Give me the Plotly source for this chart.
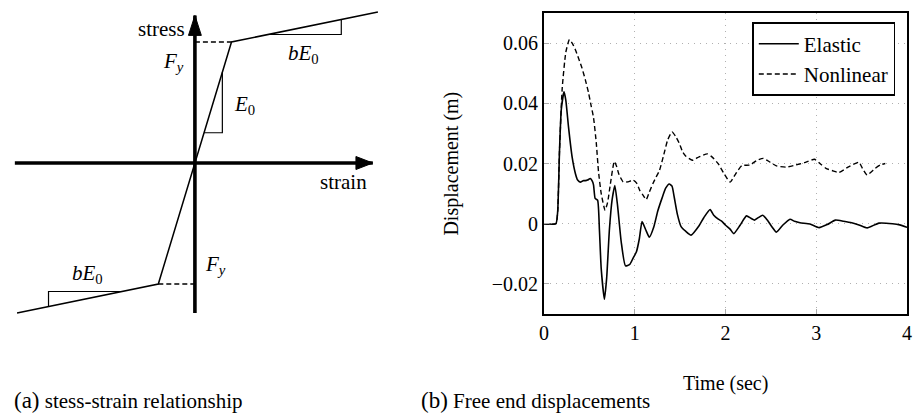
import plotly.graph_objects as go

# ---------------- data: (b) free end displacements ----------------
elastic_t = [0, 0.13, 0.15, 0.17, 0.19, 0.22, 0.24, 0.27, 0.31, 0.345, 0.37, 0.40, 0.43, 0.455,
             0.48, 0.51, 0.53, 0.545, 0.563, 0.59, 0.61, 0.63, 0.665, 0.69, 0.72, 0.75, 0.78,
             0.81, 0.85, 0.897, 0.945, 0.98, 1.017, 1.05, 1.08, 1.12, 1.16, 1.21, 1.253, 1.30,
             1.34, 1.38, 1.41, 1.435, 1.47, 1.51, 1.56, 1.62, 1.708, 1.76, 1.83, 1.87, 1.92,
             1.96, 2.0, 2.05, 2.09, 2.16, 2.23, 2.28, 2.32, 2.36, 2.41, 2.46, 2.51, 2.56, 2.63,
             2.71, 2.76, 2.82, 2.93, 3.03, 3.12, 3.21, 3.30, 3.39, 3.47, 3.56, 3.69, 3.84, 3.92, 4.0]
elastic_d = [0, 0, 0.004, 0.024, 0.038, 0.0438, 0.041, 0.032, 0.022, 0.0167, 0.0145, 0.0138,
             0.0143, 0.0143, 0.0145, 0.0150, 0.0142, 0.0129, 0.0084, 0.0078, -0.002, -0.015,
             -0.0251, -0.018, -0.002, 0.008, 0.0127, 0.006, -0.006, -0.014, -0.0135, -0.0115,
             -0.0094, -0.005, 0.0007, -0.002, -0.0045, -0.001, 0.0042, 0.0085, 0.0118, 0.0132,
             0.0125, 0.0087, 0.003, -0.001, -0.0025, -0.0038, -0.0007, 0.002, 0.0047, 0.0028,
             0.0015, 0.0008, -0.0005, -0.0018, -0.0033, -0.0005, 0.0026, 0.0018, 0.0012, 0.0020,
             0.0028, 0.0012, -0.0010, -0.0028, -0.0005, 0.0015, 0.0008, 0.0003, -0.0001,
             -0.0013, -0.0003, 0.0012, 0.0008, 0.0003, -0.0004, -0.0014, 0.0002, 0.0, -0.0004,
             -0.0012]

nonlinear_t = [0, 0.13, 0.15, 0.17, 0.20, 0.24, 0.28, 0.31, 0.345, 0.38, 0.418, 0.455, 0.49,
               0.52, 0.545, 0.575, 0.60, 0.63, 0.672, 0.70, 0.727, 0.774, 0.80, 0.825, 0.872,
               0.926, 0.981, 1.02, 1.054, 1.09, 1.126, 1.16, 1.199, 1.235, 1.272, 1.32, 1.362,
               1.41, 1.45, 1.49, 1.525, 1.56, 1.635, 1.708, 1.80, 1.85, 1.92, 1.98, 2.05, 2.11,
               2.18, 2.27, 2.343, 2.416, 2.488, 2.56, 2.67, 2.76, 2.87, 2.98, 3.04, 3.106, 3.18,
               3.25, 3.36, 3.47, 3.51, 3.56, 3.65, 3.71, 3.76]
nonlinear_d = [0, 0, 0.004, 0.024, 0.045, 0.057, 0.0612, 0.0600, 0.0578, 0.055, 0.0517, 0.0478,
               0.0435, 0.039, 0.0353, 0.027, 0.0173, 0.010, 0.0045, 0.007, 0.0124, 0.0207,
               0.019, 0.0164, 0.0139, 0.0139, 0.0145, 0.0135, 0.0111, 0.0095, 0.0080, 0.0105,
               0.0133, 0.0155, 0.0177, 0.023, 0.0278, 0.0305, 0.029, 0.0267, 0.024, 0.0225,
               0.0211, 0.0222, 0.0232, 0.0222, 0.0199, 0.0168, 0.0138, 0.0165, 0.0193, 0.0195,
               0.0210, 0.0217, 0.0205, 0.0192, 0.0188, 0.0194, 0.0203, 0.0214, 0.0200, 0.0184,
               0.0176, 0.0170, 0.0190, 0.0204, 0.0183, 0.0162, 0.0184, 0.0196, 0.0200]

x_tick_vals = [0, 1, 2, 3, 4]
x_tick_text = ["0", "1", "2", "3", "4"]
y_tick_vals = [-0.02, 0, 0.02, 0.04, 0.06]
y_tick_text = ["\u22120.02", "0", "0.02", "0.04", "0.06"]

# ---------------- data: (a) stress-strain diagram (normalised units) ----------------
yield_strain = 1.0
yield_stress = 1.0        # F_y
hardening_b = 0.062       # b
curve_strain = [-4.86, -yield_strain, 0.0, yield_strain, 5.0]
curve_stress = [-yield_stress + hardening_b * (-4.86 + yield_strain), -yield_stress, 0.0,
                yield_stress, yield_stress + hardening_b * (5.0 - yield_strain)]
strain_axis_extent = [-4.92, 4.86]
stress_axis_extent = [-1.24, 1.22]

W, H = 917, 413
FONT = "Liberation Serif, Times New Roman, serif"

fig = go.Figure()

# ---------- right panel ----------
fig.add_trace(go.Scatter(x=elastic_t, y=elastic_d, mode="lines", name="Elastic",
                         line=dict(color="black", width=1.6, shape="spline", smoothing=0.5),
                         xaxis="x", yaxis="y"))
fig.add_trace(go.Scatter(x=nonlinear_t, y=nonlinear_d, mode="lines", name="Nonlinear",
                         line=dict(color="black", width=1.4, dash="5px,3px", shape="spline",
                                   smoothing=0.5),
                         xaxis="x", yaxis="y"))

# ---------- left panel ----------
def seg(xs, ys, width=1.4, dash=None):
    fig.add_trace(go.Scatter(x=xs, y=ys, mode="lines", showlegend=False, hoverinfo="skip",
                             line=dict(color="black", width=width, dash=dash),
                             xaxis="x2", yaxis="y2"))

def poly(xs, ys):
    fig.add_trace(go.Scatter(x=xs, y=ys, mode="lines", fill="toself", fillcolor="black",
                             showlegend=False, hoverinfo="skip", line=dict(color="black", width=1),
                             xaxis="x2", yaxis="y2"))

seg(strain_axis_extent, [0, 0], width=3.6)
seg([0, 0], stress_axis_extent, width=3.6)
PX_X, PX_Y = 37.0, 121.0   # pixels per unit
ah_len_v, ah_half_v = 20 / PX_Y, 6.5 / PX_X
poly([-ah_half_v, 0, ah_half_v, -ah_half_v],
     [stress_axis_extent[1] - ah_len_v, stress_axis_extent[1], stress_axis_extent[1] - ah_len_v,
      stress_axis_extent[1] - ah_len_v])
ah_len_h, ah_half_h = 17 / PX_X, 6.5 / PX_Y
poly([strain_axis_extent[1] - ah_len_h, strain_axis_extent[1], strain_axis_extent[1] - ah_len_h,
      strain_axis_extent[1] - ah_len_h],
     [-ah_half_h, 0, ah_half_h, -ah_half_h])

seg(curve_strain, curve_stress, width=1.5)
seg([0, yield_strain], [yield_stress, yield_stress], width=1.4, dash="5px,3px")
seg([-yield_strain, 0], [-yield_stress, -yield_stress], width=1.4, dash="5px,3px")
e0a, e0b = 0.25, 0.75
seg([e0a, e0b, e0b], [e0a, e0a, e0b], width=1.2)
ua, ub = 2.0, 4.0
ya = yield_stress + hardening_b * (ua - yield_strain)
yb = yield_stress + hardening_b * (ub - yield_strain)
seg([ua, ub, ub], [ya, ya, yb], width=1.2)
seg([-ub, -ub, -ua], [-yb, -ya, -ya], width=1.2)

# ---------- layout ----------
ox, oy = 192, 163
left_w, left_h = 400, 330
fig.update_layout(
    width=W, height=H, margin=dict(l=0, r=0, t=0, b=0),
    paper_bgcolor="white", plot_bgcolor="white",
    font=dict(family=FONT, size=20, color="black"),
    showlegend=True,
    legend=dict(x=900 / W, xanchor="right", y=1 - 22 / H, yanchor="top",
                bgcolor="white", bordercolor="black", borderwidth=1.6,
                font=dict(family=FONT, size=21, color="black"),
                itemwidth=40, tracegroupgap=0),
    xaxis=dict(domain=[545 / W, 912 / W], range=[0, 4], tickvals=x_tick_vals,
               ticktext=x_tick_text, showline=True, mirror=True, linecolor="black",
               linewidth=2, ticks="inside", ticklen=5, tickcolor="#aaaaaa",
               showgrid=True, gridcolor="#b0b0b0", griddash="1px,5px", gridwidth=1,
               zeroline=False, tickfont=dict(family=FONT, size=20), anchor="y"),
    yaxis=dict(domain=[1 - 314 / H, 1 - 13 / H], range=[-0.03, 0.07], tickvals=y_tick_vals,
               ticktext=y_tick_text, showline=True, mirror=True, linecolor="black",
               linewidth=2, ticks="inside", ticklen=5, tickcolor="#aaaaaa",
               showgrid=True, gridcolor="#b0b0b0", griddash="1px,5px", gridwidth=1,
               zeroline=False, tickfont=dict(family=FONT, size=20), anchor="x"),
    xaxis2=dict(domain=[0, left_w / W], range=[-ox / PX_X, (left_w - ox) / PX_X],
                visible=False, anchor="y2"),
    yaxis2=dict(domain=[1 - left_h / H, 1], range=[(oy - left_h) / PX_Y, oy / PX_Y],
                visible=False, anchor="x2"),
)

ann = []
def lab(text, x, y, xanchor="center", size=21):
    ann.append(dict(text=text, x=x, y=y, xref="x2", yref="y2", showarrow=False,
                    xanchor=xanchor, yanchor="middle", font=dict(family=FONT, size=size)))

lab("stress", (184 - ox) / PX_X, (oy - 29) / PX_Y, xanchor="right")
lab("strain", (342 - ox) / PX_X, (oy - 182) / PX_Y)
lab("<i>F<sub>y</sub></i>", (170 - ox) / PX_X, (oy - 62) / PX_Y)
lab("<i>F<sub>y</sub></i>", (213 - ox) / PX_X, (oy - 265) / PX_Y)
lab("<i>E</i><sub>0</sub>", (242 - ox) / PX_X, (oy - 105) / PX_Y)
lab("<i>bE</i><sub>0</sub>", (302 - ox) / PX_X, (oy - 54) / PX_Y)
lab("<i>bE</i><sub>0</sub>", (83 - ox) / PX_X, (oy - 274) / PX_Y)

ann.append(dict(text="Time (sec)", x=728.5 / W, y=1 - 383 / H, xref="paper", yref="paper",
                showarrow=False, xanchor="center", yanchor="middle",
                font=dict(family=FONT, size=20)))
ann.append(dict(text="Displacement (m)", x=451 / W, y=1 - 163.5 / H, xref="paper",
                yref="paper", showarrow=False, textangle=-90, xanchor="center",
                yanchor="middle", font=dict(family=FONT, size=20)))
ann.append(dict(text="<span style='font-size:23px'>(a)</span> stess-strain relationship",
                x=8 / W, y=1 - 400 / H, xref="paper", yref="paper", showarrow=False,
                xanchor="left", yanchor="middle", borderpad=0, font=dict(family=FONT, size=21)))
ann.append(dict(text="<span style='font-size:23px'>(b)</span> Free end displacements",
                x=420 / W, y=1 - 400 / H, xref="paper", yref="paper", showarrow=False,
                xanchor="left", yanchor="middle", borderpad=0, font=dict(family=FONT, size=21)))
fig.update_layout(annotations=ann)

fig.write_html("out.html")
